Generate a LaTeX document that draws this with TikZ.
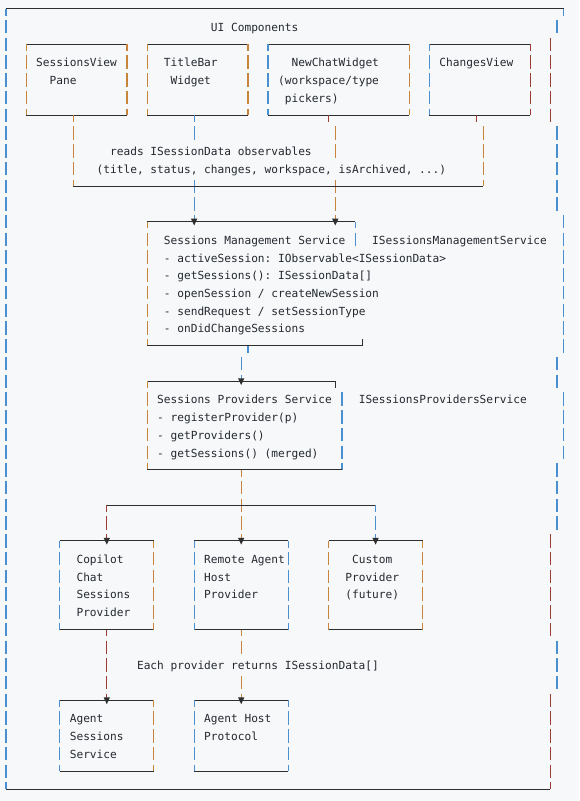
\documentclass[tikz,border=0pt]{standalone}
\usepackage{fontspec}
\setmonofont{DejaVu Sans Mono}
\usetikzlibrary{calc}
\definecolor{bg}{HTML}{F6F8FA}
\definecolor{cO}{HTML}{C8843A}
\definecolor{cB}{HTML}{4A8FD0}
\definecolor{cR}{HTML}{9C3D34}
\definecolor{hl}{HTML}{2E2E2E}
\definecolor{tx}{HTML}{24292F}
\newcommand\dn[1]{\fill[hl] ($(#1)+(-0.47,-0.17)$) -- ($(#1)+(0.47,-0.17)$) -- ($(#1)+(0,0.21)$) -- cycle;}
\newcommand\bx[6]{%
  \draw[hline] (#1,#2) -- (#3,#2);
  \draw[hline] (#1,#4) -- (#3,#4);
  \draw[vA,#5] (#1,#2) -- (#1,#4);
  \draw[vA,#6] (#3,#2) -- (#3,#4);}
\begin{document}
\begin{tikzpicture}[x=5.04pt, y=-13.2975pt,
  hline/.style={draw=hl, line width=0.75pt},
  vA/.style={line width=0.9pt, dash pattern=on 10.106pt off 3.191pt, dash phase=5.053pt},
  vH/.style={line width=0.9pt, dash pattern=on 10.106pt off 3.191pt, dash phase=11.702pt},
  lbl/.style={anchor=base west, inner sep=0pt, outer sep=0pt, text=tx, font=\ttfamily\fontsize{8.37}{10}\selectfont}]
\fill[bg] (-0.8929,-0.5076) rectangle (85.268,44.670);
\useasboundingbox (-0.8929,-0.5076) rectangle (85.268,44.670);

% outer container
\draw[hline] (0,0) -- (83,0);
\draw[hline] (0,44) -- (81,44);
\draw[vA,cB] (0,0) -- (0,44);
\draw[vA,cB] (83,0) -- (83,0.5);
\draw[vH,cB] (82,0.5) -- (82,1.5);
\draw[vH,cR] (81,1.5) -- (81,6.5);
\draw[vH,cB] (82,6.5) -- (82,11.5);
\draw[vH,cB] (83,11.5) -- (83,19.5);
\draw[vH,cB] (82,19.5) -- (82,21.5);
\draw[vH,cB] (83,21.5) -- (83,25.5);
\draw[vH,cB] (82,25.5) -- (82,29.5);
\draw[vH,cR] (81,29.5) -- (81,35.5);
\draw[vH,cB] (82,35.5) -- (82,38.5);
\draw[vH,cR] (81,38.5) -- (81,44);
\node[lbl] (uiT) at (30.5,1.27) {UI Components};

% UI component boxes
\bx{3}{2}{18}{6}{cO}{cO}
\bx{21}{2}{36}{6}{cO}{cO}
\bx{39}{2}{60}{6}{cB}{cO}
\bx{63}{2}{78}{6}{cB}{cR}
\node[lbl] (sv1) at (4.5,3.27) {SessionsView};
\node[lbl] (sv2) at (6.5,4.27) {Pane};
\node[lbl] (tb1) at (23.5,3.27) {TitleBar};
\node[lbl] (tb2) at (24.5,4.27) {Widget};
\node[lbl] (nc1) at (42.5,3.27) {NewChatWidget};
\node[lbl] (nc2) at (40.5,4.27) {(workspace/type};
\node[lbl] (nc3) at (41.5,5.27) {pickers)};
\node[lbl] (cv1) at (64.5,3.27) {ChangesView};

% connectors UI -> management
\coordinate (svB) at (10,6);
\coordinate (busL) at (10,10);
\coordinate (busR) at (71,10);
\coordinate (tbB) at (28,6);
\coordinate (tbG1) at (28,7.5);
\coordinate (tbG2) at (28,9.5);
\coordinate (smsT1) at (28,12);
\coordinate (ncB) at (48,6);
\coordinate (ncJ) at (48,6.5);
\coordinate (ncC) at (49,6.5);
\coordinate (ncG1) at (49,8.5);
\coordinate (ncG2) at (49,9.5);
\coordinate (smsT2) at (49,12);
\coordinate (cvB) at (70,6);
\coordinate (cvJ) at (70,6.5);
\coordinate (cvC) at (71,6.5);
\draw[vA,cO] (svB) -- (busL);
\draw[vA,cB] (tbB) -- (tbG1);
\draw[vH,cB] (tbG2) -- (smsT1);
\draw[vA,cR] (ncB) -- (ncJ);
\draw[vH,cO] (ncC) -- (ncG1);
\draw[vH,cO] (ncG2) -- (smsT2);
\draw[vA,cR] (cvB) -- (cvJ);
\draw[vH,cO] (cvC) -- (busR);
\draw[hline] (busL) -- (busR);
\dn{smsT1}
\dn{smsT2}
\node[lbl] (rd1) at (15.5,8.27) {reads ISessionData observables};
\node[lbl] (rd2) at (13.5,9.27) {(title, status, changes, workspace, isArchived, ...)};

% Sessions Management Service
\draw[hline] (21,12) -- (52,12);
\draw[vA,cO] (21,12) -- (21,19);
\draw[vA,cB] (52,12) -- (52,13.5);
\draw[hline] (21,19) -- (53,19);
\draw[vH,hl] (53,18.5) -- (53,19);
\node[lbl] (sm0) at (23.5,13.27) {Sessions Management Service};
\node[lbl] (smI) at (54.5,13.27) {ISessionsManagementService};
\node[lbl] (sm1) at (23.5,14.27) {- activeSession: IObservable<ISessionData>};
\node[lbl] (sm2) at (23.5,15.27) {- getSessions(): ISessionData[]};
\node[lbl] (sm3) at (23.5,16.27) {- openSession / createNewSession};
\node[lbl] (sm4) at (23.5,17.27) {- sendRequest / setSessionType};
\node[lbl] (sm5) at (23.5,18.27) {- onDidChangeSessions};

\coordinate (smsB) at (36,19);
\coordinate (smsJ) at (36,19.5);
\coordinate (smsC) at (35,19.5);
\coordinate (spsT) at (35,21);
\draw[vA,cB] (smsB) -- (smsJ);
\draw[vH,cB] (smsC) -- (spsT);
\dn{spsT}

% Sessions Providers Service
\draw[hline] (21,21) -- (49,21);
\draw[vA,cO] (21,21) -- (21,26);
\draw[vA,hl] (49,21) -- (49,21.5);
\draw[vH,cB] (50,21.5) -- (50,26);
\draw[hline] (21,26) -- (50,26);
\node[lbl] (sp0) at (22.5,22.27) {Sessions Providers Service};
\node[lbl] (spI) at (52.5,22.27) {ISessionsProvidersService};
\node[lbl] (sp1) at (22.5,23.27) {- registerProvider(p)};
\node[lbl] (sp2) at (22.5,24.27) {- getProviders()};
\node[lbl] (sp3) at (22.5,25.27) {- getSessions() (merged)};

% fan out to providers
\coordinate (spsB) at (35,26);
\coordinate (rT) at (35,30);
\coordinate (bL) at (15,28);
\coordinate (bR) at (55,28);
\coordinate (cT) at (15,30);
\coordinate (xT) at (55,30);
\draw[vA,cO] (spsB) -- (rT);
\draw[hline] (bL) -- (bR);
\draw[vA,cR] (bL) -- (cT);
\draw[vA,cB] (bR) -- (xT);
\dn{cT}
\dn{rT}
\dn{xT}

% provider boxes
\bx{8}{30}{22}{35}{cB}{cO}
\bx{28}{30}{42}{35}{cB}{cB}
\bx{48}{30}{62}{35}{cO}{cO}
\node[lbl] (cp1) at (10.5,31.27) {Copilot};
\node[lbl] (cp2) at (10.5,32.27) {Chat};
\node[lbl] (cp3) at (10.5,33.27) {Sessions};
\node[lbl] (cp4) at (10.5,34.27) {Provider};
\node[lbl] (ra1) at (29.5,31.27) {Remote Agent};
\node[lbl] (ra2) at (29.5,32.27) {Host};
\node[lbl] (ra3) at (29.5,33.27) {Provider};
\node[lbl] (cu1) at (51.5,31.27) {Custom};
\node[lbl] (cu2) at (50.5,32.27) {Provider};
\node[lbl] (cu3) at (50.5,33.27) {(future)};

% providers -> backends
\coordinate (cpB) at (15,35);
\coordinate (asT) at (15,39);
\coordinate (raB) at (35,35);
\coordinate (raG1) at (35,36.5);
\coordinate (raG2) at (35,37.5);
\coordinate (ahT) at (35,39);
\draw[vA,cR] (cpB) -- (asT);
\draw[vA,cO] (raB) -- (raG1);
\draw[vH,cO] (raG2) -- (ahT);
\dn{asT}
\dn{ahT}
\node[lbl] (ep) at (19.5,37.27) {Each provider returns ISessionData[]};

% backend boxes
\bx{8}{39}{22}{43}{cB}{cO}
\bx{28}{39}{42}{43}{cB}{cB}
\node[lbl] (as1) at (9.5,40.27) {Agent};
\node[lbl] (as2) at (9.5,41.27) {Sessions};
\node[lbl] (as3) at (9.5,42.27) {Service};
\node[lbl] (ah1) at (29.5,40.27) {Agent Host};
\node[lbl] (ah2) at (29.5,41.27) {Protocol};
\end{tikzpicture}
\end{document}
